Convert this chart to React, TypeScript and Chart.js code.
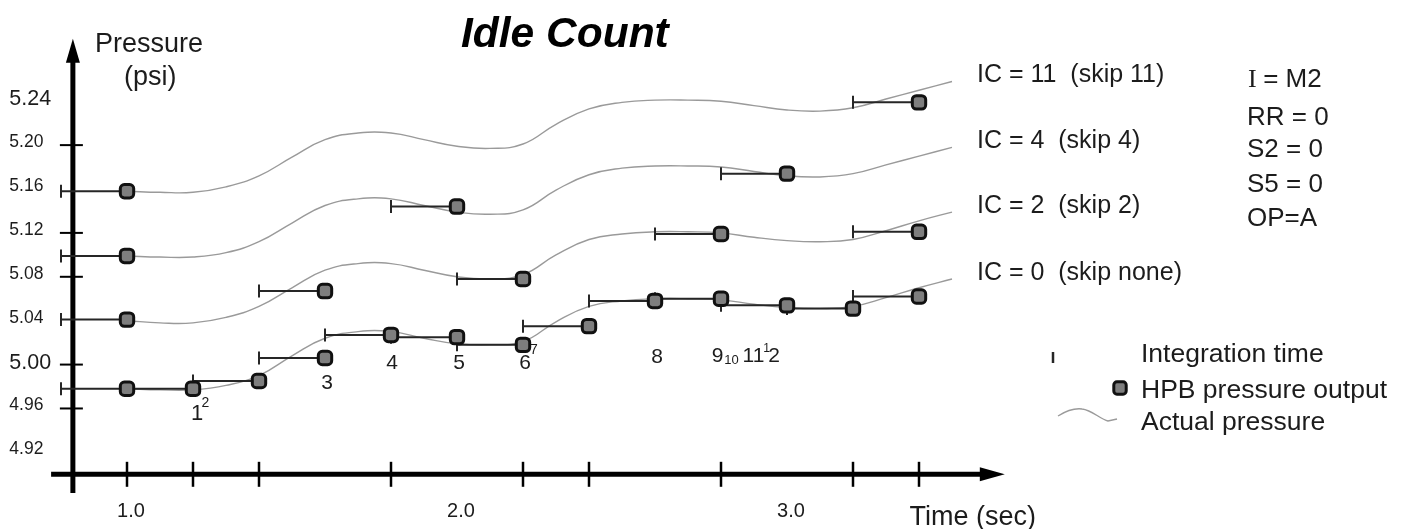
import React, { useEffect, useRef } from "react";
import { Chart, registerables } from "chart.js";

Chart.register(...registerables);

const W = 1415;
const H = 529;

// ---------- data ----------
const curveTimes = [1.0, 1.1, 1.2, 1.3, 1.4, 1.5, 1.6, 1.7, 1.8, 1.9, 2.0, 2.1, 2.2, 2.3, 2.4, 2.5, 2.6, 2.7, 2.8, 2.9, 3.0, 3.1, 3.2, 3.3, 3.4, 3.5];
const actualIC0 = [4.978, 4.977, 4.977, 4.981, 4.990, 5.008, 5.024, 5.030, 5.030, 5.024, 5.019, 5.018, 5.021, 5.039, 5.053, 5.058, 5.060, 5.060, 5.059, 5.055, 5.052, 5.051, 5.053, 5.061, 5.070, 5.078];
const actualIC2 = [5.040, 5.038, 5.038, 5.043, 5.053, 5.070, 5.086, 5.092, 5.092, 5.086, 5.080, 5.078, 5.082, 5.100, 5.114, 5.119, 5.121, 5.121, 5.120, 5.116, 5.113, 5.112, 5.114, 5.122, 5.131, 5.139];
const actualIC4 = [5.099, 5.098, 5.098, 5.102, 5.112, 5.129, 5.145, 5.151, 5.151, 5.145, 5.139, 5.137, 5.141, 5.159, 5.173, 5.179, 5.181, 5.181, 5.180, 5.176, 5.172, 5.171, 5.174, 5.182, 5.190, 5.198];
const actualIC11 = [5.158, 5.157, 5.157, 5.162, 5.172, 5.189, 5.205, 5.211, 5.211, 5.205, 5.199, 5.197, 5.201, 5.219, 5.233, 5.239, 5.241, 5.241, 5.240, 5.236, 5.232, 5.231, 5.234, 5.242, 5.250, 5.258];

const outTimesIC0 = [1.0, 1.2, 1.4, 1.6, 1.8, 2.0, 2.2, 2.4, 2.6, 2.8, 3.0, 3.2, 3.4];
const outIC0 = [4.978, 4.978, 4.985, 5.006, 5.027, 5.025, 5.018, 5.035, 5.058, 5.060, 5.054, 5.051, 5.062];
const outTimesIC2 = [1.0, 1.6, 2.2, 2.8, 3.4];
const outIC2 = [5.041, 5.067, 5.078, 5.119, 5.121];
const outTimesIC4 = [1.0, 2.0, 3.0];
const outIC4 = [5.099, 5.144, 5.174];
const outTimesIC11 = [1.0, 3.4];
const outIC11 = [5.158, 5.239];
const integrationTime = 0.2;

const curveLabels = ["IC = 0  (skip none)", "IC = 2  (skip 2)", "IC = 4  (skip 4)", "IC = 11  (skip 11)"];
const settingsLabels = ["= M2", "RR = 0", "S2 = 0", "S5 = 0", "OP=A"];
const legendLabels = ["Integration time", "HPB pressure output", "Actual pressure"];
const yTickLabels = [5.24, 5.2, 5.16, 5.12, 5.08, 5.04, 5.0, 4.96, 4.92];
const yTickLabelsLarge = [5.24, 5.0];
const yTickMarks = [5.2, 5.12, 5.08, 5.0, 4.96];
const xTickMarks = [1.0, 1.2, 1.4, 1.8, 2.2, 2.4, 2.8, 3.2, 3.4];
const xTickLabels = [1.0, 2.0, 3.0];
const titleText = "Idle Count";
const yTitle = ["Pressure", "(psi)"];
const xTitle = "Time (sec)";

// axis extents (data units)
const X_MIN = 0.7, X_MAX = 3.9, Y_MIN = 4.86, Y_MAX = 5.32;
const Y_AXIS_T = 0.836, Y_AXIS_FROM = 4.883, Y_AXIS_TO = 5.297;
const X_AXIS_V = 4.9, X_AXIS_FROM = 0.77, X_AXIS_TO = 3.66;

// ---------- layout ----------
const PX_T1 = 127, PX_PER_SEC = 330, PX_V5 = 368, PX_PER_UNIT = 1108;
const PAD = {
  left: PX_T1 - (1 - X_MIN) * PX_PER_SEC,
  right: W - (PX_T1 + (X_MAX - 1) * PX_PER_SEC),
  top: PX_V5 - (Y_MAX - 5) * PX_PER_UNIT,
  bottom: H - (PX_V5 + (5 - Y_MIN) * PX_PER_UNIT),
};

const FONT = '"Liberation Sans", Arial, Helvetica, sans-serif';
const SERIF = '"Liberation Serif", "Times New Roman", serif';
const TEXT = "#1c1c1c";
const CURVE = "#9a9a9a";
const BAR = "#262626";
const DOT_FILL = "#7e7e7e";
const DOT_EDGE = "#111111";

const toPts = (ts: number[], vs: number[]) => ts.map((t, i) => ({ x: t, y: vs[i] }));
const toBars = (ts: number[], vs: number[]) => {
  const out: any[] = [];
  ts.forEach((t, i) => {
    out.push({ x: t - integrationTime, y: vs[i] });
    out.push({ x: t, y: vs[i] });
    out.push({ x: t, y: null });
  });
  return out;
};

type Part = { s: string; size: number; dx: number; dy: number };
const sampleTags: { i: number; parts: Part[] }[] = [
  { i: 1, parts: [{ s: "1", size: 22, dx: 4, dy: 31 }, { s: "2", size: 14, dx: 12.5, dy: 18 }] },
  { i: 3, parts: [{ s: "3", size: 21, dx: 2, dy: 31 }] },
  { i: 4, parts: [{ s: "4", size: 21, dx: 1, dy: 34 }] },
  { i: 5, parts: [{ s: "5", size: 21, dx: 2, dy: 32 }] },
  { i: 6, parts: [{ s: "6", size: 21, dx: 2, dy: 24 }, { s: "7", size: 14, dx: 11, dy: 9 }] },
  { i: 8, parts: [{ s: "8", size: 21, dx: 2, dy: 62 }] },
  {
    i: 9,
    parts: [
      { s: "9", size: 21, dx: -3.5, dy: 63.5 },
      { s: "10", size: 13, dx: 10.5, dy: 65.5 },
      { s: "11", size: 21, dx: 32.5, dy: 63.5 },
      { s: "1", size: 12, dx: 45.5, dy: 53.5 },
      { s: "2", size: 21, dx: 53, dy: 63.5 },
    ],
  },
];

function drawDot(ctx: CanvasRenderingContext2D, x: number, y: number, half: number) {
  const r = half * 0.5;
  ctx.beginPath();
  ctx.moveTo(x - half + r, y - half);
  ctx.arcTo(x + half, y - half, x + half, y + half, r);
  ctx.arcTo(x + half, y + half, x - half, y + half, r);
  ctx.arcTo(x - half, y + half, x - half, y - half, r);
  ctx.arcTo(x - half, y - half, x + half, y - half, r);
  ctx.closePath();
  ctx.fillStyle = DOT_FILL;
  ctx.fill();
  ctx.lineWidth = 3;
  ctx.strokeStyle = DOT_EDGE;
  ctx.stroke();
}

const overlay = {
  id: "overlay",
  beforeDatasetsDraw(chart: any) {
    const { ctx } = chart;
    const xs = chart.scales.x;
    const ys = chart.scales.y;
    const X = (v: number) => xs.getPixelForValue(v);
    const Y = (v: number) => ys.getPixelForValue(v);
    ctx.save();
    ctx.strokeStyle = "#000";
    ctx.fillStyle = "#000";
    ctx.lineCap = "butt";

    // y axis with arrow
    const ax = X(Y_AXIS_T);
    const tipY = Y(Y_AXIS_TO);
    ctx.lineWidth = 5;
    ctx.beginPath();
    ctx.moveTo(ax, Y(Y_AXIS_FROM));
    ctx.lineTo(ax, tipY + 20);
    ctx.stroke();
    ctx.beginPath();
    ctx.moveTo(ax, tipY);
    ctx.lineTo(ax - 7, tipY + 24);
    ctx.lineTo(ax + 7, tipY + 24);
    ctx.closePath();
    ctx.fill();

    // x axis with arrow
    const ay = Y(X_AXIS_V);
    const tipX = X(X_AXIS_TO);
    ctx.beginPath();
    ctx.moveTo(X(X_AXIS_FROM), ay);
    ctx.lineTo(tipX - 20, ay);
    ctx.stroke();
    ctx.beginPath();
    ctx.moveTo(tipX, ay);
    ctx.lineTo(tipX - 25, ay - 7);
    ctx.lineTo(tipX - 25, ay + 7);
    ctx.closePath();
    ctx.fill();

    // tick marks
    ctx.lineWidth = 2.5;
    xTickMarks.forEach((t) => {
      ctx.beginPath();
      ctx.moveTo(X(t), ay - 12.5);
      ctx.lineTo(X(t), ay + 12.5);
      ctx.stroke();
    });
    ctx.lineWidth = 2;
    yTickMarks.forEach((v) => {
      ctx.beginPath();
      ctx.moveTo(ax - 13, Y(v));
      ctx.lineTo(ax + 10, Y(v));
      ctx.stroke();
    });

    // tick labels
    ctx.fillStyle = TEXT;
    ctx.textBaseline = "alphabetic";
    ctx.textAlign = "left";
    yTickLabels.forEach((v) => {
      const big = yTickLabelsLarge.includes(v);
      ctx.font = `${big ? 21.5 : 17.5}px ${FONT}`;
      ctx.fillText(v.toFixed(2), 9.3, Y(v) + (big ? 4 : 2));
    });
    ctx.textAlign = "center";
    ctx.font = `20px ${FONT}`;
    xTickLabels.forEach((t) => ctx.fillText(t.toFixed(1), X(t) + 4, 517));

    // axis titles
    ctx.textAlign = "left";
    ctx.font = `27px ${FONT}`;
    ctx.fillText(yTitle[0], 95, 52);
    ctx.fillText(yTitle[1], 124, 85);
    ctx.fillText(xTitle, 909.5, 525);

    // sample number labels (under the dots)
    ctx.textAlign = "center";
    sampleTags.forEach((tag) => {
      const px = X(outTimesIC0[tag.i]);
      const py = Y(outIC0[tag.i]);
      tag.parts.forEach((p) => {
        ctx.font = `${p.size}px ${FONT}`;
        ctx.fillText(p.s, px + p.dx, py + p.dy);
      });
    });
    ctx.restore();
  },
  afterDatasetsDraw(chart: any) {
    const { ctx } = chart;
    const xs = chart.scales.x;
    const ys = chart.scales.y;
    const X = (v: number) => xs.getPixelForValue(v);
    const Y = (v: number) => ys.getPixelForValue(v);
    ctx.save();
    ctx.fillStyle = "#000";
    ctx.textBaseline = "alphabetic";
    ctx.textAlign = "left";

    // title
    ctx.font = `italic bold 42.5px ${FONT}`;
    ctx.fillText(titleText, 461, 47);

    // curve labels at the end of each actual pressure curve
    ctx.fillStyle = TEXT;
    ctx.font = `25px ${FONT}`;
    const ends = [actualIC0, actualIC2, actualIC4, actualIC11];
    const tEnd = curveTimes[curveTimes.length - 1];
    ends.forEach((arr, i) => {
      ctx.fillText(curveLabels[i], X(tEnd) + 25, Y(arr[arr.length - 1]) + 1);
    });

    // settings block
    const sBase = [87, 125, 157, 192, 226];
    ctx.font = `26px ${SERIF}`;
    ctx.fillText("I", 1248, sBase[0]);
    const iw = ctx.measureText("I ").width;
    ctx.font = `26px ${FONT}`;
    ctx.fillText(settingsLabels[0], 1248 + iw, sBase[0]);
    for (let i = 1; i < settingsLabels.length; i++) {
      ctx.fillText(settingsLabels[i], 1247, sBase[i]);
    }

    // legend
    const lBase = [362, 398, 430];
    ctx.font = `26.5px ${FONT}`;
    legendLabels.forEach((s, i) => ctx.fillText(s, 1141, lBase[i]));
    ctx.strokeStyle = BAR;
    ctx.lineWidth = 2.5;
    ctx.beginPath();
    ctx.moveTo(1053, 352);
    ctx.lineTo(1053, 363);
    ctx.stroke();
    drawDot(ctx, 1120, 388, 6.2);
    ctx.strokeStyle = CURVE;
    ctx.lineWidth = 1.4;
    ctx.beginPath();
    ctx.moveTo(1058, 416);
    ctx.bezierCurveTo(1066, 411, 1074, 408, 1082, 409);
    ctx.bezierCurveTo(1092, 410, 1100, 419, 1108, 421);
    ctx.lineTo(1117, 419);
    ctx.stroke();
    ctx.restore();
  },
};

const curveSets = [actualIC0, actualIC2, actualIC4, actualIC11];
const outSets: [number[], number[]][] = [
  [outTimesIC0, outIC0],
  [outTimesIC2, outIC2],
  [outTimesIC4, outIC4],
  [outTimesIC11, outIC11],
];

export default function App() {
  const ref = useRef<HTMLCanvasElement | null>(null);
  useEffect(() => {
    if (!ref.current) return;
    const datasets: any[] = [];
    curveSets.forEach((arr) => {
      datasets.push({
        data: toPts(curveTimes, arr),
        borderColor: CURVE,
        borderWidth: 1.4,
        pointRadius: 0,
        tension: 0.45,
        fill: false,
        clip: false,
        order: 3,
      });
    });
    outSets.forEach(([ts, vs]) => {
      datasets.push({
        data: toBars(ts, vs),
        borderColor: BAR,
        borderWidth: 2,
        spanGaps: false,
        pointStyle: "line",
        pointRotation: 90,
        pointRadius: (c: any) => (c.dataIndex % 3 === 0 ? 6.5 : 0),
        pointBorderColor: BAR,
        pointBorderWidth: 2,
        tension: 0,
        fill: false,
        clip: false,
        order: 2,
      });
    });
    outSets.forEach(([ts, vs]) => {
      datasets.push({
        data: toPts(ts, vs),
        showLine: false,
        pointStyle: "rectRounded",
        pointRadius: 7.8,
        pointBackgroundColor: DOT_FILL,
        pointBorderColor: DOT_EDGE,
        pointBorderWidth: 3,
        clip: false,
        order: 1,
      });
    });

    const chart = new Chart(ref.current, {
      type: "line",
      data: { datasets },
      options: {
        responsive: false,
        animation: false,
        events: [],
        layout: { padding: PAD },
        plugins: { legend: { display: false }, tooltip: { enabled: false }, title: { display: false } },
        scales: {
          x: { type: "linear", min: X_MIN, max: X_MAX, display: false },
          y: { type: "linear", min: Y_MIN, max: Y_MAX, display: false },
        },
      },
      plugins: [overlay],
    });
    return () => chart.destroy();
  }, []);

  return (
    <div style={{ position: "absolute", left: 0, top: 0, width: W, height: H, background: "#fff" }}>
      <canvas ref={ref} width={W} height={H} style={{ width: W, height: H, display: "block" }} />
    </div>
  );
}
